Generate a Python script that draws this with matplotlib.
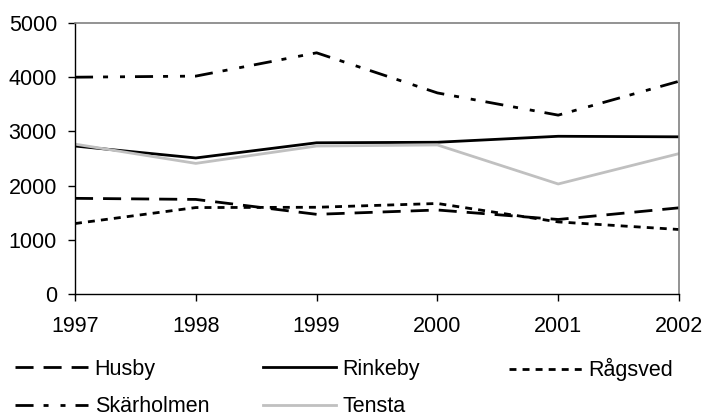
import matplotlib
matplotlib.use("Agg")
import matplotlib.pyplot as plt

plt.rcParams["font.family"] = ["Liberation Sans", "DejaVu Sans"]

years = [1997, 1998, 1999, 2000, 2001, 2002]
husby      = [1765, 1745, 1470, 1550, 1375, 1590]
rinkeby    = [2730, 2510, 2790, 2800, 2910, 2900]
ragsved    = [1300, 1595, 1600, 1670, 1330, 1190]
skarholmen = [4000, 4020, 4450, 3710, 3300, 3925]
tensta     = [2765, 2410, 2730, 2750, 2030, 2590]
y_ticks = [0, 1000, 2000, 3000, 4000, 5000]

FS = 15.5

fig = plt.figure(figsize=(7.04, 4.16), dpi=100)
ax = fig.add_axes([75 / 704, 1 - 294 / 416, (679 - 75) / 704, (294 - 23) / 416])

# line styles
l_husby, = ax.plot(years, husby, color="black", lw=2, dashes=(6.5, 3.6), label="Husby")
l_rink, = ax.plot(years, rinkeby, color="black", lw=2, label="Rinkeby")
l_rags, = ax.plot(years, ragsved, color="black", lw=2, dashes=(2.5, 2.2), label="Rågsved")
l_skar, = ax.plot(years, skarholmen, color="black", lw=2,
                  dashes=(6.5, 3.6, 1.8, 4.3, 1.8, 3.6), label="Skärholmen")
l_tens, = ax.plot(years, tensta, color="#c0c0c0", lw=2, label="Tensta")

ax.set_xlim(years[0], years[-1])
ax.set_ylim(0, 5000)
ax.set_xticks(years)
ax.set_xticklabels([str(y) for y in years])
ax.set_yticks(y_ticks)
ax.tick_params(axis="both", labelsize=FS, direction="out", length=5, width=1, color="black")
ax.tick_params(axis="y", pad=8)
ax.tick_params(axis="x", pad=11)

for side in ["left", "bottom"]:
    ax.spines[side].set_color("black")
    ax.spines[side].set_linewidth(1)
for side in ["top", "right"]:
    ax.spines[side].set_color("#808080")
    ax.spines[side].set_linewidth(1.2)

# legend: three columns placed like the original
cols = [([l_husby, l_skar], 15, 359), ([l_rink, l_tens], 263, 359), ([l_rags], 509, 358)]
for handles, xpx, ypx in cols:
    fig.legend(handles=handles, labels=[h.get_label() for h in handles],
               loc="upper left", bbox_to_anchor=(xpx / 704, 1 - ypx / 416),
               frameon=False, fontsize=FS, handlelength=3.4, handletextpad=0.3,
               labelspacing=0.75, borderpad=0, borderaxespad=0)

fig.savefig("out.png", dpi=100)
